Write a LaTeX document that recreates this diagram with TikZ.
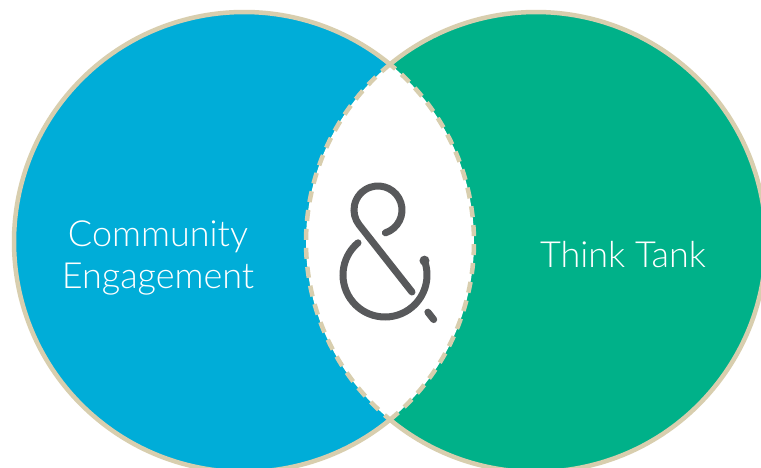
\documentclass[tikz,border=0pt]{standalone}
\usepackage{fontspec}
\usetikzlibrary{calc}
\newfontfamily\lightfont{Lato Light}
\definecolor{cblue}{RGB}{0,173,216}
\definecolor{cgreen}{RGB}{0,177,137}
\definecolor{crim}{RGB}{216,206,174}
\definecolor{camp}{RGB}{88,89,91}
\tikzset{
  rim/.style={draw=crim, line width=4.5pt},
  lensrim/.style={draw=crim, line width=4.5pt, dash pattern=on 11pt off 8pt},
  amp/.style={draw=camp, line width=7pt, line cap=round},
  lbl/.style={text=white, font=\lightfont\fontsize{36}{42}\selectfont, anchor=base, inner sep=0pt}
}
\begin{document}
\begin{tikzpicture}[x=1pt,y=1pt]
\useasboundingbox (0,0) rectangle (761,467);
\clip (0,0) rectangle (761,467);
\fill[white] (0,0) rectangle (761,467);
\coordinate (L) at (244,225);
\coordinate (R) at (536,225);
\fill[cblue] (L) circle (230);
\fill[cgreen] (R) circle (230);
\begin{scope}
  \clip (L) circle (230);
  \fill[white] (R) circle (230);
\end{scope}
% outer rims
\draw[rim] ([shift={(50.6:230)}]L) arc (50.6:309.4:230);
\draw[rim] ([shift={(-129.4:230)}]R) arc (-129.4:129.4:230);
% lens rims
\draw[lensrim] ([shift={(-50.6:230)}]L) arc (-50.6:50.6:230);
\draw[lensrim] ([shift={(129.4:230)}]R) arc (129.4:230.6:230);
% ampersand
\coordinate (tc) at (378,257);
\coordinate (bc) at (385,192);
\coordinate (dA) at ($(tc)+(218:24)$);
\coordinate (dB) at (412,175);
\draw[amp] ([shift={(-72:24)}]tc) arc (-72:218:24) -- (dB);
\draw[amp] ([shift={(130:42)}]bc) arc (130:380:42) coordinate (dot);
\fill[camp] (dot) circle (5);
\coordinate (t1) at ($(dA)!1.3!(dB)$);
\coordinate (t2) at ($(dA)!1.41!(dB)$);
\draw[amp] (t1) -- (t2);
% labels
\node[lbl] (ce1) at (158,221) {Community};
\node[lbl] (ce2) at (158,179) {Engagement};
\node[lbl] (tt) at (623,200) {Think Tank};
\end{tikzpicture}
\end{document}
